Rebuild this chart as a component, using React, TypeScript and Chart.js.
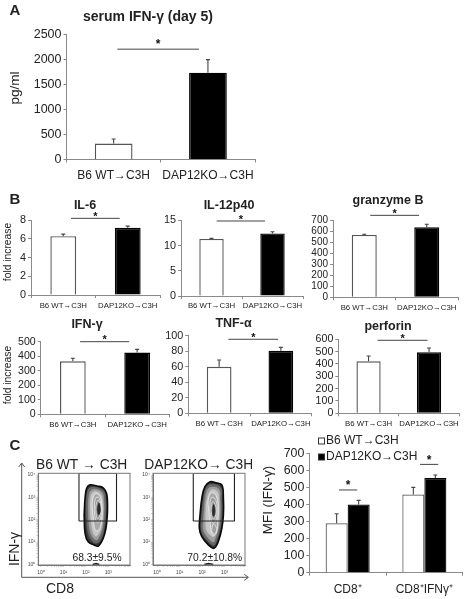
import React, { useEffect, useRef } from "react";
import { Chart, registerables } from "chart.js";

Chart.register(...registerables);
Chart.defaults.font.family = '"Liberation Sans", Arial, sans-serif';

// ---------- data ----------
const groupLabels = ["B6 WT→C3H", "DAP12KO→C3H"];

const serumValues = [320, 1740];
const serumErrTop = [410, 2000];
const serumSig = [0.04, 0.905, 2210];

const il6Values = [6.3, 7.2];
const il6ErrTop = [6.52, 7.38];
const il6Sig = [0.12, 0.875, 8.21];

const il12Values = [11.3, 12.4];
const il12ErrTop = [11.42, 12.74];
const il12Sig = [0.085, 0.877, 14.86];

const granzymeValues = [570, 640];
const granzymeErrTop = [576, 667];
const granzymeSig = [0.096, 0.877, 749];

const ifnValues = [365, 425];
const ifnErrTop = [386, 447];
const ifnSig = [0.113, 0.876, 500];

const tnfValues = [60, 80.5];
const tnfErrTop = [68.7, 85];
const tnfSig = [0.15, 0.956, 95.4];

const perforinValues = [422, 495];
const perforinErrTop = [465, 529];
const perforinSig = [0.149, 0.975, 592];

const mfiCategories = ["CD8⁺", "CD8⁺IFNγ⁺"];
const mfiWhite = [290, 458];
const mfiBlack = [400, 555];
const mfiWhiteErrTop = [346, 500];
const mfiBlackErrTop = [424, 573];
const mfiSigA = [-0.113, 0.125, 485];
const mfiSigB = [0.943, 1.181, 635];

const flowDecades = [0, 1, 2, 3, 4];
const flowDecadeLabels = ["10⁰", "10¹", "10²", "10³", "10⁴"];
const flowMinor = [0.3, 0.48, 0.6, 0.7, 0.78, 0.85, 0.9, 0.95];

type P = [number, number];
const leftGate: P[] = [[1.69, 1.94], [3.36, 1.94], [3.36, 4.08], [1.69, 4.08], [1.69, 1.94]];
const leftOuter: P[] = [[1.92, 2.21], [1.96, 2.96], [2.03, 3.41], [2.18, 3.56], [2.49, 3.51], [2.77, 3.43], [2.91, 3.2], [2.95, 2.96], [2.96, 2.57], [2.95, 2.21], [2.89, 1.61], [2.77, 1.17], [2.55, 0.82], [2.36, 0.87], [2.1, 1.01], [1.96, 1.39], [1.92, 2.21]];
const leftL2: P[] = [[2.02, 2.2], [2.03, 3.0], [2.2, 3.44], [2.75, 3.32], [2.87, 2.9], [2.87, 2.2], [2.8, 1.6], [2.66, 1.12], [2.5, 0.96], [2.3, 1.02], [2.1, 1.4], [2.02, 2.2]];
const leftL3: P[] = [[2.11, 2.2], [2.13, 3.0], [2.27, 3.34], [2.68, 3.26], [2.79, 2.9], [2.79, 2.2], [2.72, 1.6], [2.58, 1.22], [2.48, 1.09], [2.33, 1.18], [2.18, 1.5], [2.11, 2.2]];
const leftL4: P[] = [[2.2, 2.2], [2.2, 2.9], [2.33, 3.24], [2.62, 3.18], [2.73, 2.85], [2.74, 2.2], [2.66, 1.6], [2.52, 1.32], [2.42, 1.27], [2.3, 1.5], [2.2, 2.2]];
const leftRingA: P[] = [[2.34, 2.0], [2.28, 2.6], [2.32, 3.0], [2.45, 3.17], [2.62, 3.05], [2.71, 2.6], [2.7, 2.0], [2.62, 1.62], [2.5, 1.5], [2.38, 1.62], [2.34, 2.0]];
const leftRingB: P[] = [[2.37, 2.45], [2.4, 2.85], [2.5, 3.02], [2.63, 2.85], [2.69, 2.45], [2.64, 2.05], [2.52, 1.88], [2.42, 2.05], [2.37, 2.45]];
const leftRingC: P[] = [[2.44, 2.6], [2.53, 2.88], [2.63, 2.65], [2.65, 2.35], [2.58, 2.1], [2.5, 2.06], [2.45, 2.3], [2.44, 2.6]];
const leftCore: P[] = [[2.5, 2.48], [2.58, 2.76], [2.65, 2.45], [2.6, 2.24], [2.54, 2.24], [2.5, 2.48]];
const leftAxisEvents: P[] = [[2.3, -0.01], [2.45, 0.03], [2.6, -0.01]];

const rightGate: P[] = [[1.61, 1.94], [3.44, 1.94], [3.44, 4.08], [1.61, 4.08], [1.61, 1.94]];
const rightOuter: P[] = [[1.91, 2.21], [1.99, 2.96], [2.13, 3.48], [2.36, 3.7], [2.62, 3.65], [2.88, 3.56], [2.95, 2.96], [2.95, 2.21], [2.88, 1.61], [2.72, 1.01], [2.53, 0.72], [2.28, 0.87], [1.99, 1.24], [1.88, 1.61], [1.91, 2.21]];
const rightL2: P[] = [[1.99, 2.2], [2.07, 2.96], [2.18, 3.42], [2.38, 3.58], [2.82, 3.46], [2.87, 2.9], [2.87, 2.2], [2.8, 1.6], [2.64, 1.05], [2.52, 0.86], [2.3, 1.0], [2.05, 1.3], [1.96, 1.62], [1.99, 2.2]];
const rightL3: P[] = [[2.08, 2.2], [2.15, 2.96], [2.24, 3.34], [2.4, 3.46], [2.75, 3.36], [2.8, 2.9], [2.8, 2.2], [2.72, 1.6], [2.58, 1.15], [2.5, 1.0], [2.33, 1.12], [2.12, 1.4], [2.05, 1.65], [2.08, 2.2]];
const rightL4: P[] = [[2.16, 2.2], [2.22, 2.9], [2.42, 3.34], [2.68, 3.25], [2.74, 2.85], [2.73, 2.2], [2.66, 1.6], [2.52, 1.25], [2.38, 1.3], [2.2, 1.55], [2.16, 2.2]];
const rightRingA: P[] = [[2.36, 1.9], [2.3, 2.4], [2.28, 2.9], [2.42, 3.2], [2.62, 3.1], [2.72, 2.6], [2.7, 2.0], [2.68, 1.55], [2.55, 1.3], [2.42, 1.45], [2.36, 1.9]];
const rightRingB: P[] = [[2.34, 2.45], [2.37, 2.85], [2.45, 3.0], [2.62, 2.85], [2.67, 2.4], [2.62, 2.0], [2.5, 1.85], [2.4, 2.05], [2.34, 2.45]];
const rightRingC: P[] = [[2.41, 2.6], [2.48, 2.82], [2.6, 2.62], [2.62, 2.3], [2.55, 2.05], [2.47, 2.05], [2.42, 2.3], [2.41, 2.6]];
const rightCore: P[] = [[2.45, 2.42], [2.52, 2.68], [2.58, 2.4], [2.54, 2.18], [2.48, 2.18], [2.45, 2.42]];
const rightLobe: P[] = [[2.42, 1.5], [2.5, 1.8], [2.65, 1.6], [2.55, 1.35], [2.42, 1.5]];
const rightAxisEvents: P[] = [[2.1, -0.01], [2.3, 0.03], [2.5, -0.01]];

// ---------- styling / layout ----------
const GREY = "#8a8a8a";
const TEXT = "#222";

type Txt = { t: string; x: number; y: number; size: number; bold?: boolean; rot?: boolean; color?: string };

const pagePlugin = {
  id: "page",
  afterLayout(chart: any) {
    const o = chart.options.plugins.page;
    const tb = chart.titleBlock;
    if (tb && o.titleX !== undefined) {
      const lh = o.titleSize * 1.2;
      tb.left = o.titleX - o.left - 100;
      tb.right = o.titleX - o.left + 100;
      tb.top = o.titleY - o.top - lh / 2;
      tb.bottom = tb.top + lh;
    }
  },
  afterDraw(chart: any) {
    const o = chart.options.plugins.page;
    const ctx = chart.ctx;
    ctx.save();
    (o.err || []).forEach((errs: number[], di: number) => {
      const meta = chart.getDatasetMeta(di);
      errs.forEach((v, i) => {
        const bar = meta.data[i];
        const top = chart.scales.y.getPixelForValue(v);
        ctx.strokeStyle = "#444";
        ctx.lineWidth = 1.1;
        ctx.beginPath();
        ctx.moveTo(bar.x, bar.y);
        ctx.lineTo(bar.x, top);
        ctx.moveTo(bar.x - 2, top);
        ctx.lineTo(bar.x + 2, top);
        ctx.stroke();
      });
    });
    (o.sig || []).forEach((s: number[]) => {
      const xs = chart.scales.x;
      const c0 = xs.getPixelForValue(0);
      const w = xs.getPixelForValue(1) - c0;
      const y = chart.scales.y.getPixelForValue(s[2]);
      const x0 = c0 + s[0] * w;
      const x1 = c0 + s[1] * w;
      ctx.strokeStyle = "#444";
      ctx.lineWidth = 1;
      ctx.beginPath();
      ctx.moveTo(x0, y);
      ctx.lineTo(x1, y);
      ctx.stroke();
      ctx.fillStyle = "#111";
      ctx.font = `bold ${o.starSize || 11}px "Liberation Sans"`;
      ctx.textAlign = "center";
      ctx.textBaseline = "middle";
      ctx.fillText("*", (x0 + x1) / 2, y - (o.starGap ?? 1.5));
    });
    if (o.frame) {
      const a = chart.chartArea;
      ctx.strokeStyle = "#777";
      ctx.lineWidth = 1;
      ctx.strokeRect(a.left, a.top, a.right - a.left, a.bottom - a.top);
    }
    if (o.legend) {
      chart.data.datasets.forEach((d: any, i: number) => {
        const [lx, ly] = o.legend[i];
        ctx.fillStyle = d.backgroundColor;
        ctx.strokeStyle = "#333";
        ctx.lineWidth = 1;
        ctx.fillRect(lx - o.left, ly - o.top - 3, 6, 6);
        ctx.strokeRect(lx - o.left, ly - o.top - 3, 6, 6);
        ctx.fillStyle = TEXT;
        ctx.font = '12px "Liberation Sans"';
        ctx.textAlign = "left";
        ctx.textBaseline = "middle";
        ctx.fillText(d.label, lx - o.left + 7.5, ly - o.top);
      });
    }
    (o.arrows || []).forEach((p: number[][]) => {
      ctx.strokeStyle = "#555";
      ctx.lineWidth = 1;
      ctx.beginPath();
      p.forEach((q, i) => {
        if (i === 0) ctx.moveTo(q[0] - o.left, q[1] - o.top);
        else ctx.lineTo(q[0] - o.left, q[1] - o.top);
      });
      ctx.stroke();
    });
    (o.text || []).forEach((t: Txt) => {
      ctx.save();
      ctx.translate(t.x - o.left, t.y - o.top);
      if (t.rot) ctx.rotate(-Math.PI / 2);
      ctx.fillStyle = t.color || TEXT;
      ctx.font = `${t.bold ? "bold " : ""}${t.size}px "Liberation Sans"`;
      ctx.textAlign = "center";
      ctx.textBaseline = "middle";
      ctx.fillText(t.t, 0, 0);
      ctx.restore();
    });
    ctx.restore();
  },
};

type Box = {
  axisX: number; axisEnd: number; plotTop: number; plotBottom: number; yW: number; xH: number;
  left: number; right: number; top: number; bottom: number;
};

function layoutOf(b: Box, titleSize?: number) {
  return {
    autoPadding: false,
    padding: {
      left: b.axisX - b.left - b.yW,
      right: b.right - b.axisEnd,
      top: titleSize ? 0 : b.plotTop - b.top,
      bottom: b.bottom - b.plotBottom - b.xH,
    },
  };
}

function titleOf(text: string, size: number, b: Box, weight: string) {
  return {
    display: true,
    text,
    color: TEXT,
    font: { size, weight },
    padding: { top: 0, bottom: b.plotTop - b.top - size * 1.2 },
  };
}

function barAxes(b: Box, ymax: number, step: number, tickSize: number, catSize: number, labelY: number) {
  const tl = 3;
  return {
    x: {
      type: "category",
      offset: true,
      afterFit: (s: any) => { s.height = b.xH; },
      border: { color: GREY, width: 1 },
      grid: { drawOnChartArea: false, offset: true, tickLength: tl, color: GREY },
      ticks: {
        color: TEXT, maxRotation: 0, autoSkip: false,
        font: { size: catSize },
        padding: labelY - b.plotBottom - tl - catSize / 2,
      },
    },
    y: {
      min: 0, max: ymax,
      afterFit: (s: any) => { s.width = b.yW; },
      border: { color: GREY, width: 1 },
      grid: { drawOnChartArea: false, tickLength: tl, color: GREY },
      ticks: {
        stepSize: step, autoSkip: false, color: TEXT, font: { size: tickSize }, padding: 2,
        callback: (v: number) => String(v),
      },
    },
  };
}

type BarSpec = {
  title: string; titleX: number; titleY: number; titleSize: number;
  axisX: number; axisEnd: number; plotTop: number; plotBottom: number; labelY: number;
  values: number[]; err: number[]; sig: number[]; max: number; step: number; tick: number; cat: number;
  text?: Txt[]; top?: number; left?: number; starSize?: number; starGap?: number;
};

function barConfig(s: BarSpec) {
  const left = s.left ?? Math.max(Math.floor(Math.min(s.axisX - 30, s.titleX - 70)), 0);
  const top = s.top ?? Math.floor(s.titleY - 10);
  const b: Box = {
    axisX: s.axisX, axisEnd: s.axisEnd, plotTop: s.plotTop, plotBottom: s.plotBottom,
    yW: s.axisX - left, xH: Math.ceil(s.labelY + 8 - s.plotBottom),
    left, right: Math.ceil(s.axisEnd + 3), top, bottom: Math.ceil(s.labelY + 9),
  };
  return {
    box: b,
    config: {
      type: "bar",
      data: {
        labels: groupLabels,
        datasets: [{
          data: s.values,
          backgroundColor: ["#ffffff", "#000000"],
          borderColor: ["#555555", "#000000"],
          borderWidth: 1.4,
          borderSkipped: "bottom",
          categoryPercentage: 1,
          barPercentage: 0.4,
        }],
      },
      options: {
        responsive: false, animation: false,
        layout: layoutOf(b, s.titleSize),
        scales: barAxes(b, s.max, s.step, s.tick, s.cat, s.labelY),
        plugins: {
          legend: { display: false },
          tooltip: { enabled: false },
          title: titleOf(s.title, s.titleSize, b, "bold"),
          page: {
            left: b.left, top: b.top, titleX: s.titleX, titleY: s.titleY, titleSize: s.titleSize,
            err: [s.err], sig: [s.sig], text: s.text, starSize: s.starSize, starGap: s.starGap,
          },
        },
      },
    },
  };
}

const barSpecs: BarSpec[] = [
  {
    title: "serum IFN-γ (day 5)", titleX: 148, titleY: 17, titleSize: 14,
    axisX: 66.5, axisEnd: 256.5, plotTop: 34.7, plotBottom: 159.5, labelY: 174,
    values: serumValues, err: serumErrTop, sig: serumSig, max: 2500, step: 500, tick: 12.5, cat: 12,
    top: 0, left: 0, starSize: 12, starGap: 4,
    text: [
      { t: "A", x: 15, y: 11, size: 15, bold: true },
      { t: "pg/ml", x: 15, y: 88, size: 13.6, rot: true },
    ],
  },
  {
    title: "IL-6", titleX: 85, titleY: 206, titleSize: 12.5,
    axisX: 31, axisEnd: 160, plotTop: 220.3, plotBottom: 295, labelY: 305,
    values: il6Values, err: il6ErrTop, sig: il6Sig, max: 8, step: 2, tick: 10.8, cat: 7.8,
    top: 188, left: 0,
    text: [
      { t: "B", x: 15, y: 200, size: 15, bold: true },
      { t: "fold increase", x: 8, y: 252, size: 10.3, rot: true },
    ],
  },
  {
    title: "IL-12p40", titleX: 229, titleY: 206, titleSize: 12.5,
    axisX: 181, axisEnd: 303, plotTop: 220.3, plotBottom: 296, labelY: 305,
    values: il12Values, err: il12ErrTop, sig: il12Sig, max: 15, step: 5, tick: 10.8, cat: 7.8,
  },
  {
    title: "granzyme B", titleX: 388, titleY: 200.5, titleSize: 12.5,
    axisX: 333, axisEnd: 458, plotTop: 220.7, plotBottom: 297.3, labelY: 306.7,
    values: granzymeValues, err: granzymeErrTop, sig: granzymeSig, max: 700, step: 100, tick: 10, cat: 7.8,
  },
  {
    title: "IFN-γ", titleX: 87, titleY: 324.5, titleSize: 12.5,
    axisX: 40.7, axisEnd: 169.3, plotTop: 341.7, plotBottom: 414.3, labelY: 424,
    values: ifnValues, err: ifnErrTop, sig: ifnSig, max: 500, step: 100, tick: 10.6, cat: 7.8, left: 0,
    text: [{ t: "fold increase", x: 8, y: 375, size: 10.3, rot: true }],
  },
  {
    title: "TNF-α", titleX: 233.5, titleY: 323.5, titleSize: 12.5,
    axisX: 188.3, axisEnd: 311.7, plotTop: 335.7, plotBottom: 413.3, labelY: 423,
    values: tnfValues, err: tnfErrTop, sig: tnfSig, max: 100, step: 20, tick: 10.8, cat: 7.8,
  },
  {
    title: "perforin", titleX: 388, titleY: 327, titleSize: 12.5,
    axisX: 338.3, axisEnd: 459.3, plotTop: 339.3, plotBottom: 413.3, labelY: 422.7,
    values: perforinValues, err: perforinErrTop, sig: perforinSig, max: 600, step: 100, tick: 10.6, cat: 7.8,
  },
];

function mfiConfig() {
  const b: Box = {
    axisX: 309.3, axisEnd: 462.7, plotTop: 453.3, plotBottom: 572.7, yW: 50, xH: 24,
    left: 259, right: 464, top: 435, bottom: 598,
  };
  return {
    box: b,
    config: {
      type: "bar",
      data: {
        labels: mfiCategories,
        datasets: [
          { label: "B6 WT→C3H", data: mfiWhite, backgroundColor: "#ffffff", borderColor: "#555555", borderWidth: 1.2, borderSkipped: "bottom", categoryPercentage: 0.574, barPercentage: 1 },
          { label: "DAP12KO→C3H", data: mfiBlack, backgroundColor: "#000000", borderColor: "#000000", borderWidth: 1.2, borderSkipped: "bottom", categoryPercentage: 0.574, barPercentage: 1 },
        ],
      },
      options: {
        responsive: false, animation: false,
        layout: layoutOf(b),
        scales: barAxes(b, 700, 100, 12.4, 12, 588),
        plugins: {
          legend: { display: false },
          tooltip: { enabled: false },
          title: { display: false },
          page: {
            left: b.left, top: b.top,
            err: [mfiWhiteErrTop, mfiBlackErrTop], sig: [mfiSigA, mfiSigB], starSize: 12, starGap: 4,
            legend: [[318.5, 441], [318.5, 457]],
            text: [{ t: "MFI (IFN-γ)", x: 268, y: 500, size: 13.4, rot: true }],
          },
        },
      },
    },
  };
}

function contourSet(name: string, pts: P[], fill: string, line: string, width: number, tension = 0.4, doFill = true) {
  return {
    label: name,
    data: pts.map(([x, y]) => ({ x, y })),
    showLine: true,
    pointRadius: 0,
    tension,
    borderColor: line,
    borderWidth: width,
    backgroundColor: fill,
    fill: doFill ? "shape" : false,
  };
}

function flowAxis(b: Box, axis: "x" | "y", min: number, max: number) {
  const allTicks: number[] = [];
  flowDecades.forEach((d) => {
    allTicks.push(d);
    if (d < 4) flowMinor.forEach((m) => allTicks.push(d + m));
  });
  return {
    type: "linear",
    min, max,
    afterFit: (s: any) => { if (axis === "x") s.height = b.xH; else s.width = b.yW; },
    afterBuildTicks: (s: any) => { s.ticks = allTicks.filter((v) => v >= min && v <= max).map((value) => ({ value })); },
    border: { color: "#777", width: 1 },
    grid: { drawOnChartArea: false, tickLength: 2, color: "#aaa", lineWidth: 0.5 },
    ticks: {
      autoSkip: false, maxRotation: 0, color: "#444",
      font: { size: 5 },
      padding: axis === "x" ? 3 : 1,
      callback: (v: number) => { const i = flowDecades.indexOf(v); return i >= 0 ? flowDecadeLabels[i] : ""; },
    },
  };
}

function flowConfig(opts: {
  axisX: number; axisEnd: number; left: number; right: number; title: string; titleX: number;
  xmin: number; xmax: number; sets: any[]; text: Txt[]; arrows?: number[][][];
}) {
  const b: Box = {
    axisX: opts.axisX, axisEnd: opts.axisEnd, plotTop: 473.3, plotBottom: 565, yW: opts.axisX - opts.left, xH: 12,
    left: opts.left, right: opts.right, top: 436, bottom: 599,
  };
  return {
    box: b,
    config: {
      type: "scatter",
      data: { datasets: opts.sets },
      options: {
        responsive: false, animation: false,
        layout: layoutOf(b, 13.8),
        scales: { x: flowAxis(b, "x", opts.xmin, opts.xmax), y: flowAxis(b, "y", -0.03, 4.08) },
        plugins: {
          legend: { display: false },
          tooltip: { enabled: false },
          title: titleOf(opts.title, 13.8, b, "normal"),
          page: {
            left: b.left, top: b.top, titleX: opts.titleX, titleY: 465, titleSize: 13.8,
            frame: true, text: opts.text, arrows: opts.arrows,
          },
        },
      },
    },
  };
}

const leftFlowSets = [
  contourSet("gate", leftGate, "transparent", "#222", 1.1, 0, false),
  contourSet("core", leftCore, "#2a2a2a", "#333333", 0.5),
  contourSet("ringC", leftRingC, "#858585", "#f4f4f4", 0.7),
  contourSet("ringB", leftRingB, "#9a9a9a", "#f4f4f4", 0.7),
  contourSet("ringA", leftRingA, "#aaaaaa", "#f4f4f4", 0.7),
  contourSet("l4", leftL4, "#c8c8c8", "#cccccc", 0.5),
  contourSet("l3", leftL3, "#9e9e9e", "#a4a4a4", 0.5),
  contourSet("l2", leftL2, "#686868", "#707070", 0.5),
  contourSet("outer", leftOuter, "#3a3a3a", "#0a0a0a", 1.6),
  contourSet("axisEvents", leftAxisEvents, "#222", "#222", 1.6, 0, false),
];

const rightFlowSets = [
  contourSet("gate", rightGate, "transparent", "#222", 1.1, 0, false),
  contourSet("core", rightCore, "#2a2a2a", "#333333", 0.5),
  contourSet("ringC", rightRingC, "#858585", "#f4f4f4", 0.7),
  contourSet("ringB", rightRingB, "#9a9a9a", "#f4f4f4", 0.7),
  contourSet("lobe", rightLobe, "#a0a0a0", "#f4f4f4", 0.7),
  contourSet("ringA", rightRingA, "#aaaaaa", "#f4f4f4", 0.7),
  contourSet("l4", rightL4, "#c8c8c8", "#cccccc", 0.5),
  contourSet("l3", rightL3, "#9e9e9e", "#a4a4a4", 0.5),
  contourSet("l2", rightL2, "#686868", "#707070", 0.5),
  contourSet("outer", rightOuter, "#3a3a3a", "#0a0a0a", 1.6),
  contourSet("axisEvents", rightAxisEvents, "#222", "#222", 1.6, 0, false),
];

function flowPanels() {
  return [
    flowConfig({
      axisX: 38.3, axisEnd: 130, left: 0, right: 252, title: "B6 WT → C3H", titleX: 81.7,
      xmin: -0.12, xmax: 3.96, sets: leftFlowSets,
      text: [
        { t: "C", x: 15, y: 446, size: 15, bold: true },
        { t: "IFN-γ", x: 15, y: 549, size: 14, rot: true },
        { t: "CD8", x: 60, y: 589.3, size: 14 },
        { t: "68.3±9.5%", x: 97, y: 558, size: 10.3 },
      ],
      arrows: [
        [[18.7, 467], [21.7, 463], [24.7, 467]],
        [[21.7, 463], [21.7, 577.3], [248.3, 577.3]],
        [[244.3, 574.3], [248.3, 577.3], [244.3, 580.3]],
      ],
    }),
    flowConfig({
      axisX: 153, axisEnd: 245, left: 131, right: 252, title: "DAP12KO→ C3H", titleX: 198.7,
      xmin: -0.18, xmax: 3.91, sets: rightFlowSets,
      text: [{ t: "70.2±10.8%", x: 214.8, y: 558, size: 10.3 }],
    }),
  ];
}

function Panel({ make }: { make: () => { box: Box; config: any } }) {
  const ref = useRef<HTMLCanvasElement>(null);
  const built = useRef(make());
  const { box } = built.current;
  useEffect(() => {
    const cfg = { ...built.current.config, plugins: [pagePlugin] };
    const chart = new Chart(ref.current as HTMLCanvasElement, cfg);
    return () => chart.destroy();
  }, []);
  return (
    <canvas
      ref={ref}
      width={box.right - box.left}
      height={box.bottom - box.top}
      style={{
        position: "absolute",
        left: box.left,
        top: box.top,
        width: box.right - box.left,
        height: box.bottom - box.top,
      }}
    />
  );
}

export default function App() {
  useEffect(() => {
    document.body.style.margin = "0";
    document.body.style.background = "#fff";
  }, []);
  const flows = flowPanels();
  return (
    <div style={{ position: "fixed", left: 0, top: 0, width: 464, height: 599, overflow: "hidden", background: "#fff" }}>
      {barSpecs.map((s) => <Panel key={s.title} make={() => barConfig(s)} />)}
      {flows.map((f, i) => <Panel key={i} make={() => f} />)}
      <Panel make={mfiConfig} />
    </div>
  );
}
